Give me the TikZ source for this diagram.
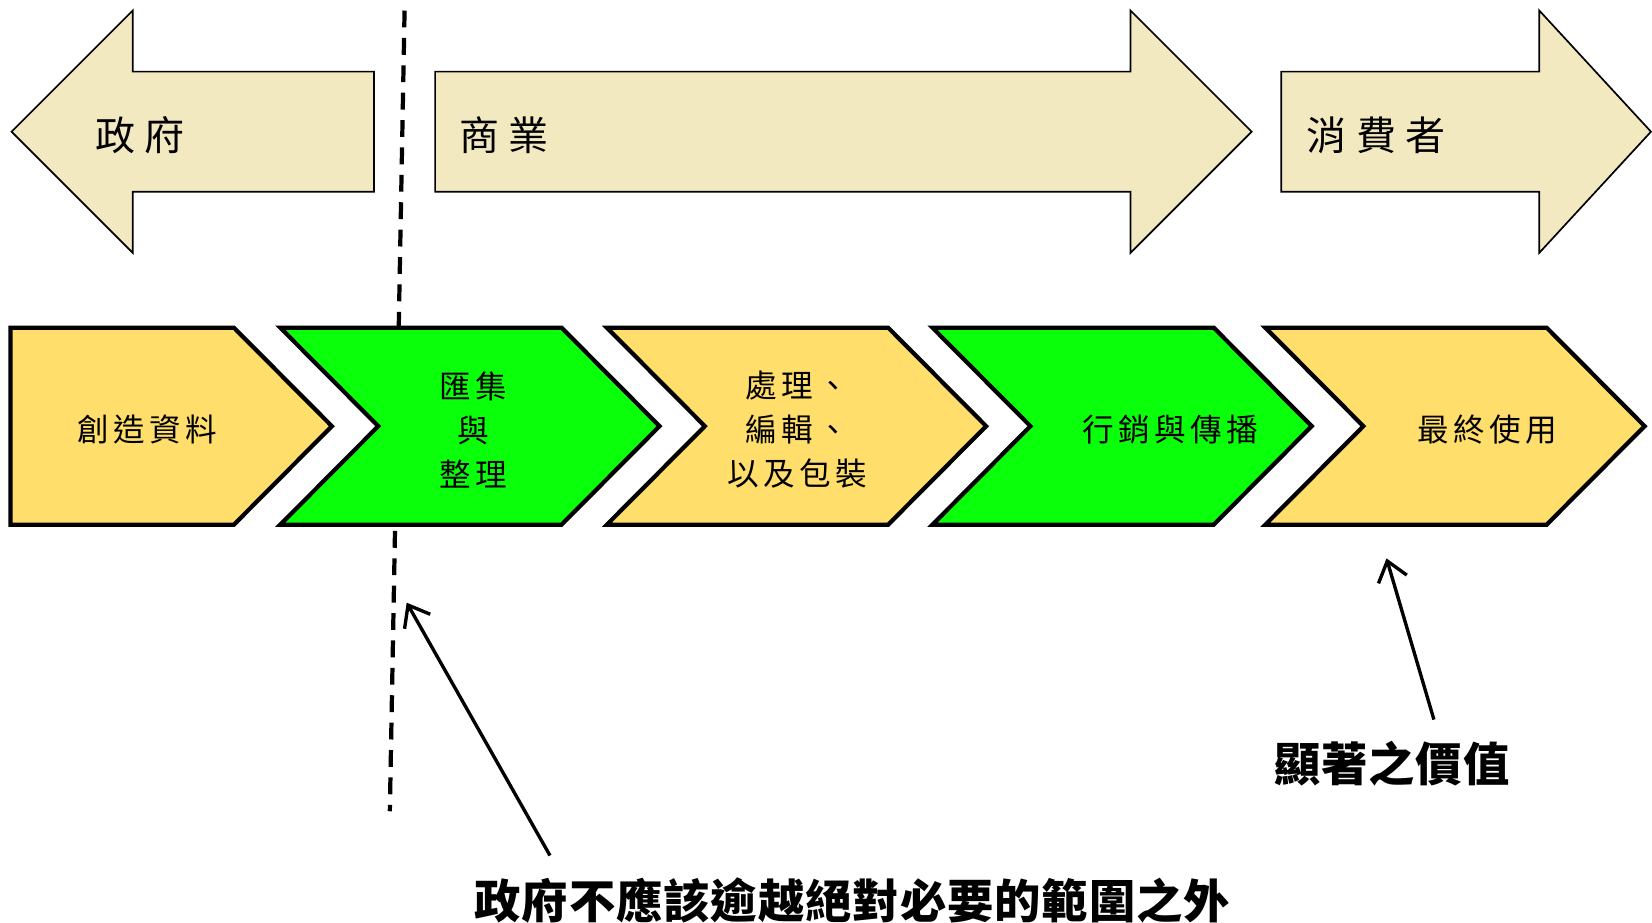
\documentclass[tikz,border=0pt]{standalone}
\usepackage{fontspec}
\usetikzlibrary{arrows.meta}
\newfontfamily\cjktop[LetterSpace=23]{Noto Sans CJK TC}
\newfontfamily\cjkmid[LetterSpace=14]{Noto Sans CJK TC}
\newfontfamily\cjkbig[LetterSpace=2]{Noto Sans CJK TC}
\definecolor{beige}{RGB}{243,233,193}
\definecolor{yel}{RGB}{255,222,107}
\definecolor{grn}{RGB}{10,255,10}
\tikzset{
  bigarrow/.style={draw=black, line width=0.8pt, fill=beige},
  chev/.style={draw=black, line width=2pt, line join=miter},
  toplabel/.style={anchor=west, inner sep=0pt, font=\cjktop\fontsize{19pt}{22pt}\selectfont},
  chevlabel/.style={inner sep=0pt, align=center, font=\cjkmid\fontsize{15pt}{21pt}\selectfont},
  notelabel/.style={inner sep=0pt, font=\cjkbig\bfseries\fontsize{22pt}{26pt}\selectfont},
  divider/.style={line width=2pt, dash pattern=on 8pt off 5pt},
  pointer/.style={line width=1.6pt, -{Straight Barb[length=9pt,width=14pt,line width=1.6pt]}}
}
\begin{document}
\begin{tikzpicture}[x=0.5pt,y=-0.5pt]
\useasboundingbox (0,0) rectangle (1568,876);
% dashed divider (behind chevrons)
\coordinate (dtop) at (384,10);
\coordinate (dbot) at (370,770);
\draw[divider] (dtop) -- (dbot);
% top arrows
\draw[bigarrow] (11,125) -- (126,10) -- (126,68) -- (355,68) -- (355,182) -- (126,182) -- (126,240) -- cycle;
\draw[bigarrow] (413,68) -- (1073,68) -- (1073,10) -- (1188,125) -- (1073,240) -- (1073,182) -- (413,182) -- cycle;
\draw[bigarrow] (1216,68) -- (1461,68) -- (1461,10) -- (1567,125) -- (1461,240) -- (1461,182) -- (1216,182) -- cycle;
\node[toplabel] (gov) at (90,128) {政府};
\node[toplabel] (biz) at (436,128) {商業};
\node[toplabel] (con) at (1240,128) {消費者};
% chevrons
\draw[chev, fill=yel] (10,311) -- (222,311) -- (315,404.5) -- (222,498) -- (10,498) -- cycle;
\draw[chev, fill=grn] (266,311) -- (533,311) -- (626,404.5) -- (533,498) -- (266,498) -- (359,404.5) -- cycle;
\draw[chev, fill=yel] (576,311) -- (843,311) -- (936,404.5) -- (843,498) -- (576,498) -- (669,404.5) -- cycle;
\draw[chev, fill=grn] (885,311) -- (1152,311) -- (1245,404.5) -- (1152,498) -- (885,498) -- (978,404.5) -- cycle;
\draw[chev, fill=yel] (1201,311) -- (1468,311) -- (1561,404.5) -- (1468,498) -- (1201,498) -- (1294,404.5) -- cycle;
\node[chevlabel] (c1) at (140,408) {創造資料};
\node[chevlabel] (c2) at (449,408) {匯集\\與\\整理};
\node[chevlabel] (c3) at (757,408) {處理、\\編輯、\\以及包裝};
\node[chevlabel] (c4) at (1111,408) {行銷與傳播};
\node[chevlabel] (c5) at (1412,408) {最終使用};
% notes
\node[notelabel] (n1) at (809,855) {政府不應該逾越絕對必要的範圍之外};
\node[notelabel] (n2) at (1321,725) {顯著之價值};
\coordinate (p1s) at (522,812);
\coordinate (p1e) at (386,572);
\coordinate (p2s) at (1361,683);
\coordinate (p2e) at (1316,530);
\draw[pointer] (p1s) -- (p1e);
\draw[pointer] (p2s) -- (p2e);
\end{tikzpicture}
\end{document}
